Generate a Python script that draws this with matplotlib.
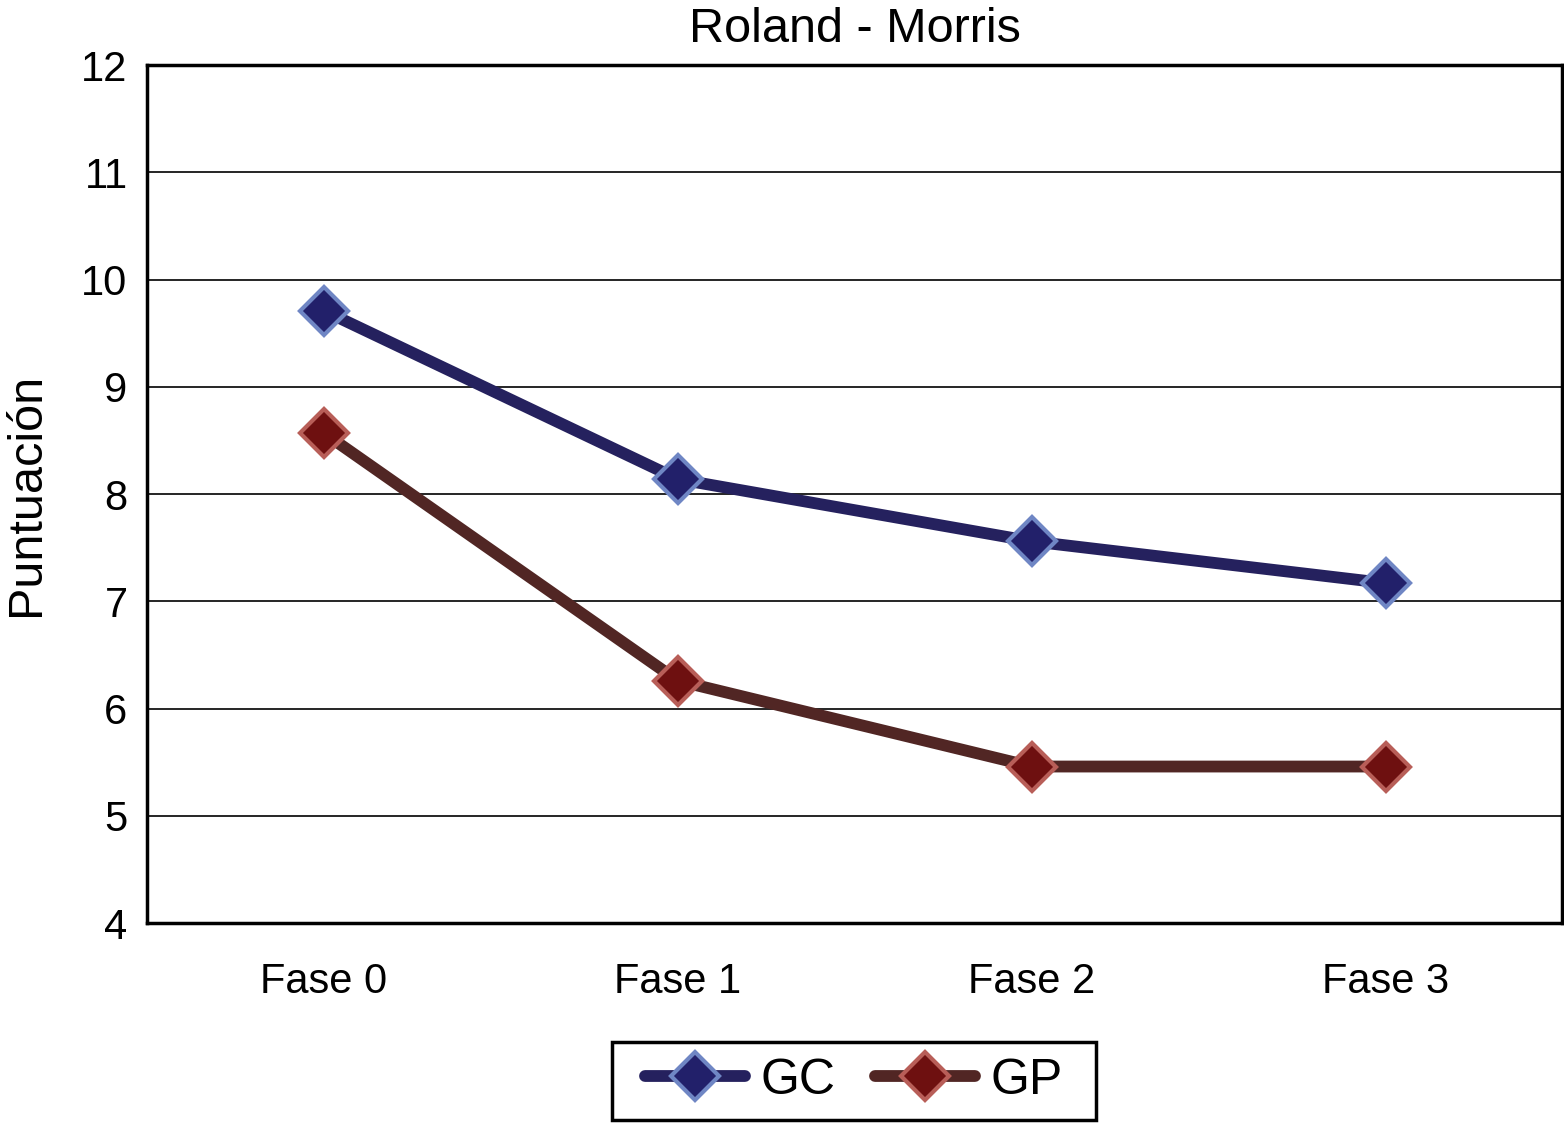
import matplotlib.pyplot as plt
from matplotlib.patches import Rectangle
import numpy as np

plt.rcParams["font.family"] = ["Liberation Sans", "DejaVu Sans"]

phases = ["Fase 0", "Fase 1", "Fase 2", "Fase 3"]
gc_values = [9.71, 8.14, 7.56, 7.17]
gp_values = [8.57, 6.26, 5.46, 5.46]
y_ticks = [4, 5, 6, 7, 8, 9, 10, 11, 12]

fig = plt.figure(figsize=(15.64, 11.23), dpi=100)
ax = fig.add_axes([0.094, 0.178, 0.905, 0.764])

x = np.arange(len(phases))
ax.plot(x, gc_values, color="#25215e", lw=8.5, marker="D", markersize=24,
        markerfacecolor="#22206a", markeredgecolor="#6f86c4", markeredgewidth=3,
        label="GC", solid_capstyle="round", zorder=3)
ax.plot(x, gp_values, color="#512624", lw=8.5, marker="D", markersize=24,
        markerfacecolor="#6e1010", markeredgecolor="#b85e58", markeredgewidth=3,
        label="GP", solid_capstyle="round", zorder=3)

ax.set_xlim(-0.5, 3.5)
ax.set_ylim(4, 12)
ax.set_yticks(y_ticks)
ax.set_xticks(x)
ax.set_xticklabels(phases)
ax.yaxis.grid(True, color="black", lw=1.2)
ax.set_axisbelow(True)
ax.tick_params(length=0, labelsize=30, pad=14)
ax.tick_params(axis="x", pad=28)
for s in ax.spines.values():
    s.set_linewidth(2.5)

ax.set_title("Roland - Morris", fontsize=35, pad=17)
ax.set_ylabel("Puntuación", fontsize=35, labelpad=23)

# legend entries without frame, box drawn separately (wider side padding)
leg = fig.legend(loc="center", bbox_to_anchor=(0.546, 0.0374), ncol=2,
                 fontsize=36, frameon=False,
                 handlelength=2.0, columnspacing=0.8, handletextpad=0.3,
                 borderpad=0.3, borderaxespad=0)
fig.patches.append(Rectangle((0.3913, 0.0027), 0.3095, 0.0695,
                             transform=fig.transFigure, fill=False,
                             edgecolor="black", lw=2.5))

fig.savefig("out.png", dpi=100)
